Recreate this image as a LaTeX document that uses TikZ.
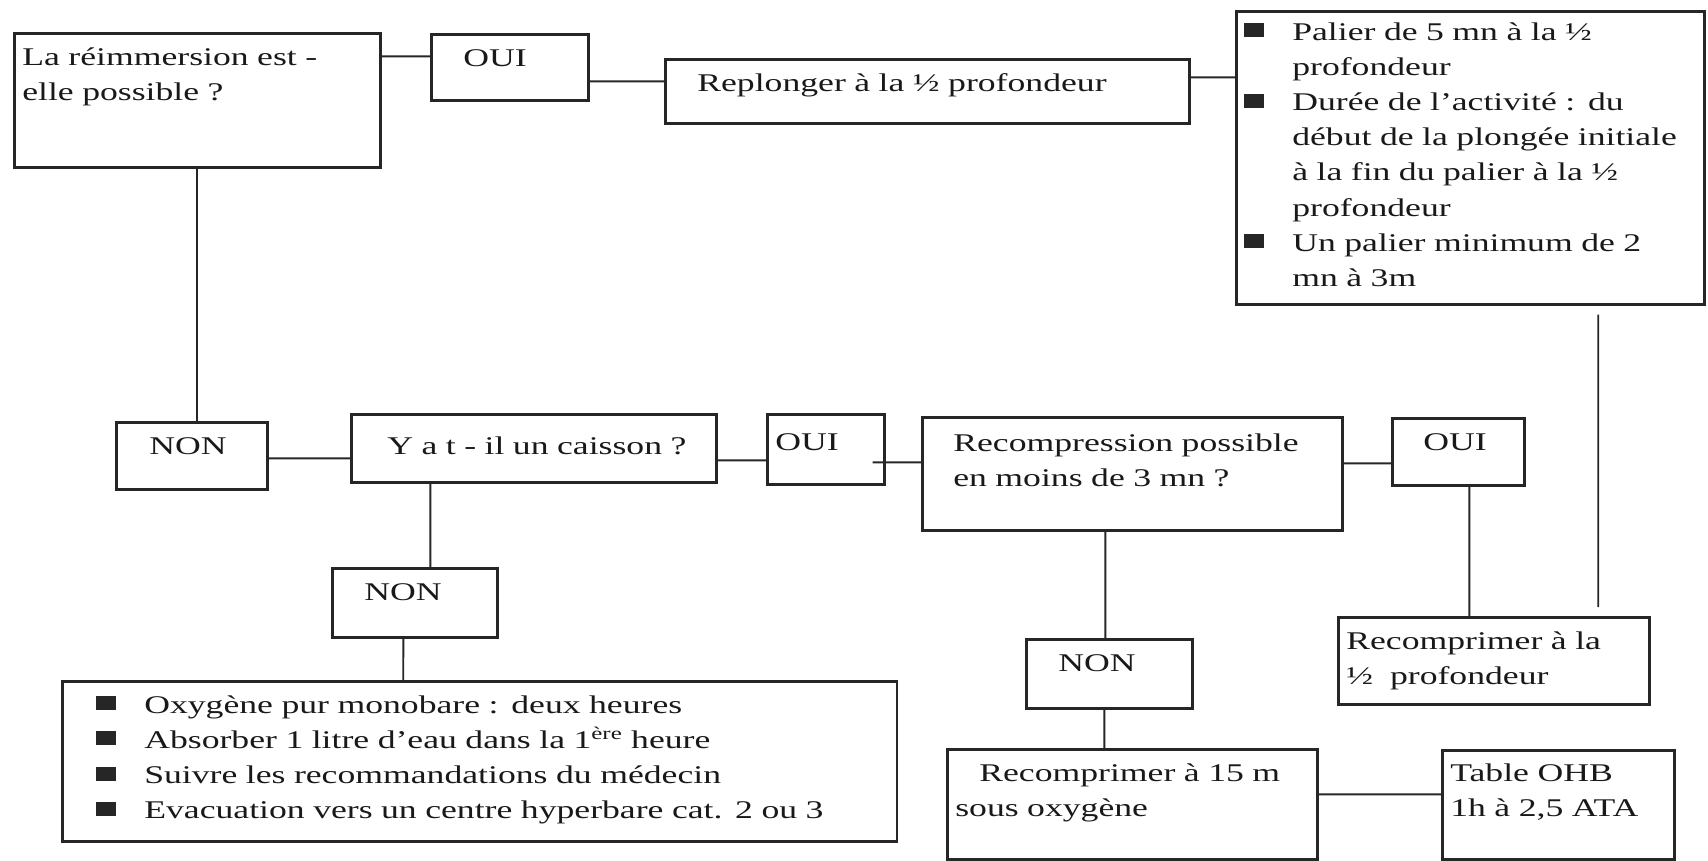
\documentclass[tikz,border=0pt]{standalone}
\usepackage{fontspec}
\setmainfont[FakeStretch=1.4]{Liberation Serif}

\newcommand{\sqbullet}{\makebox[0.96cm][l]{\color{black!85}\rule[0.06cm]{0.4cm}{0.28cm}}}

\begin{document}
\begin{tikzpicture}[x=0.02cm, y=-0.02cm,
                    box/.style={draw=black!85, line width=1.5pt, anchor=north west, align=left,
                                inner xsep=0.16cm, inner ysep=0pt, text height=0.64cm, text=black!90,
                                font=\fontsize{14.5pt}{20pt}\selectfont},
                    link/.style={draw=black!85, line width=1.1pt}]
            \useasboundingbox (0,0) rectangle (1708,860);

            % Top row
            \node[box, text width=7cm, text depth=2.04cm] (reimm) at (13,32) {La réimmersion est -\\elle possible ?};
            \node[box, text width=2.82cm, text depth=0.68cm] (oui1) at (430,33) {\hspace*{0.48cm}OUI};
            \node[box, text width=10.16cm, text depth=0.64cm] (replonger) at (664,58) {\hspace*{0.48cm}Replonger à la ½ profondeur};
            \node[box, text width=9.04cm, text height=0.58cm, text depth=5.28cm] (palier) at (1235,10)
                {\sqbullet Palier de 5 mn à la ½\\
                 \hspace*{0.96cm}profondeur\\
                 \sqbullet Durée de l'activité : du\\
                 \hspace*{0.96cm}début de la plongée initiale\\
                 \hspace*{0.96cm}à la fin du palier à la ½\\
                 \hspace*{0.96cm}profondeur\\
                 \sqbullet Un palier minimum de 2\\
                 \hspace*{0.96cm}mn à 3m};

            % Middle row
            \node[box, text width=2.7cm, text depth=0.7cm] (non1) at (115,421) {\hspace*{0.5cm}NON};
            \node[box, text width=6.98cm, text height=0.8cm, text depth=0.56cm] (caisson) at (350,413) {\hspace*{0.56cm}Y a t - il un caisson ?};
            \node[box, text width=2.02cm, text height=0.72cm, text depth=0.68cm] (oui2) at (766,413) {OUI};
            \node[box, text width=8.08cm, text height=0.68cm, text depth=1.58cm] (recomp) at (921,416)
                {\hspace*{0.46cm}Recompression possible\\\hspace*{0.46cm}en moins de 3 mn ?};
            \node[box, text width=2.32cm, text depth=0.7cm] (oui3) at (1391,417) {\hspace*{0.46cm}OUI};

            % Bottom row
            \node[box, text width=2.98cm, text depth=0.74cm] (non2) at (331,567) {\hspace*{0.48cm}NON};
            \node[box, text width=16.38cm, text depth=2.56cm] (soins) at (61,680)
                {\hspace*{0.52cm}\sqbullet Oxygène pur monobare : deux heures\\
                 \hspace*{0.52cm}\sqbullet Absorber 1 litre d'eau dans la 1\textsuperscript{ère} heure\\
                 \hspace*{0.52cm}\sqbullet Suivre les recommandations du médecin\\
                 \hspace*{0.52cm}\sqbullet Evacuation vers un centre hyperbare cat. 2 ou 3};
            \node[box, text width=3cm, text depth=0.74cm] (non3) at (1025,638) {\hspace*{0.48cm}NON};
            \node[box, text width=5.9cm, text depth=1.1cm] (demi) at (1337,616) {Recomprimer à la\\½~ profondeur};
            \node[box, text width=7.08cm, text depth=1.56cm] (quinze) at (946,748) {\hspace*{0.48cm}Recomprimer à 15 m\\sous oxygène};
            \node[box, text width=4.32cm, text height=0.62cm, text depth=1.56cm] (ohb) at (1441,749) {Table OHB\\1h à 2,5 ATA};

            % Links
            \draw[link] ([yshift=0.88cm]reimm.east) -- ([yshift=0.22cm]oui1.west);
            \draw[link] ([yshift=-0.28cm]oui1.east) -- ([yshift=0.2cm]replonger.west);
            \draw[link] ([yshift=0.28cm]replonger.east) -- ([yshift=1.61cm]palier.west);
            \draw[link] (reimm.south) -- (reimm.south |- non1.north);
            \draw[link] ([yshift=-0.05cm]non1.east) -- ([yshift=-0.2cm]caisson.west);
            \draw[link] ([yshift=-0.24cm]caisson.east) -- ([yshift=-0.22cm]oui2.west);
            \draw[link, shorten <=-0.26cm] ([yshift=-0.26cm]oui2.east) -- ([yshift=0.23cm]recomp.west);
            \draw[link] ([yshift=0.21cm]recomp.east) -- ([yshift=-0.23cm]oui3.west);
            \draw[link] ([xshift=0.22cm]oui3.south) -- ([xshift=-0.49cm]demi.north);
            \draw[link, shorten <=0.18cm, shorten >=0.18cm] ([xshift=2.56cm]palier.south) -- ([xshift=2.09cm]demi.north);
            \draw[link] ([xshift=-2.07cm]caisson.south) -- ([xshift=0.31cm]non2.north);
            \draw[link] ([xshift=-0.23cm]non2.south) -- ([xshift=-1.53cm]soins.north);
            \draw[link] ([xshift=-0.54cm]recomp.south) -- ([xshift=-0.08cm]non3.north);
            \draw[link] ([xshift=-0.1cm]non3.south) -- ([xshift=-0.56cm]quinze.north);
            \draw[link] ([yshift=0.2cm]quinze.east) -- ([yshift=0.21cm]ohb.west);
        \end{tikzpicture}
\end{document}
